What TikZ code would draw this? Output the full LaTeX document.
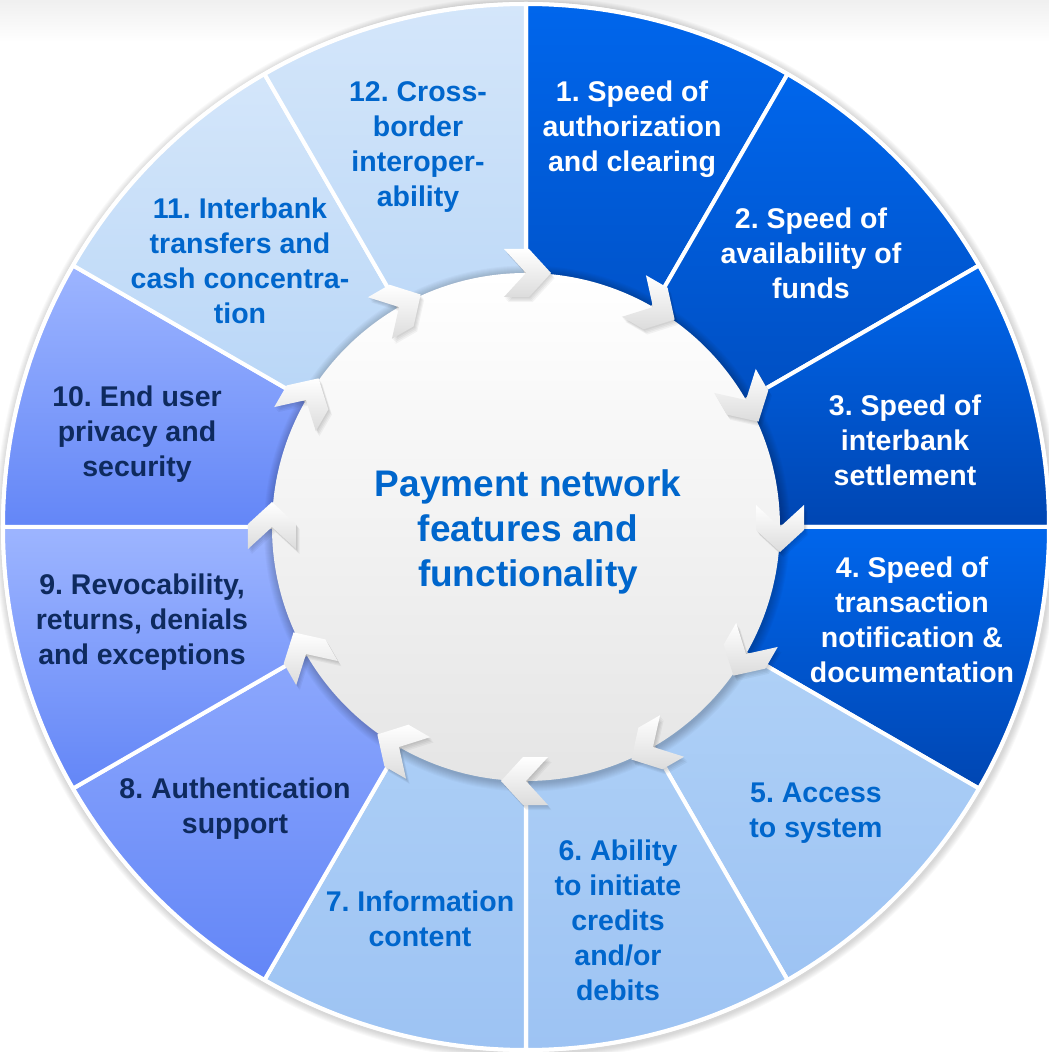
\documentclass[tikz,border=0pt]{standalone}
\usepackage{fontspec}
\setmainfont{Liberation Sans}
% sector fills (top / bottom of each wedge)
\definecolor{dkTop}{HTML}{0066EC}
\definecolor{dkBot}{HTML}{0046B2}
\definecolor{ltTop}{HTML}{B6D6F8}
\definecolor{ltBot}{HTML}{9DC3F3}
\definecolor{mdTop}{HTML}{9DB5FF}
\definecolor{mdBot}{HTML}{6386F7}
\definecolor{plTop}{HTML}{D4E6FA}
\definecolor{plBot}{HTML}{AED0F6}
% text colours
\definecolor{txBlue}{HTML}{0066CC}
\definecolor{txNavy}{HTML}{0E2A5E}
\definecolor{chevGray}{HTML}{DCDCDC}
\begin{document}
\frenchspacing
\begin{tikzpicture}[x=1pt,y=1pt,
  lbl/.style={font=\bfseries\fontsize{28.5}{35}\selectfont, align=center, inner sep=0pt},
  secDark/.style={top color=dkTop, bottom color=dkBot},
  secLight/.style={top color=ltTop, bottom color=ltBot},
  secMid/.style={top color=mdTop, bottom color=mdBot},
  secPale/.style={top color=plTop, bottom color=plBot},
  onDark/.style={lbl, text=white},
  onLight/.style={lbl, text=txBlue},
  onMid/.style={lbl, text=txNavy}]
\useasboundingbox (-526,-525) rectangle (523,527);

% faint grey band along the top edge
\shade[top color=gray!12, bottom color=white] (-526,485) rectangle (523,527);

% soft shadow around the wheel, then its white rim
\foreach \i in {1,...,7}
  \fill[black, opacity=0.022] (1,-1.5) circle (525+\i);
\fill[white] (0,0) circle (525);

% twelve wedges, clockwise from the top
\foreach \k/\st in {1/secDark,2/secDark,3/secDark,4/secDark,
                    5/secLight,6/secLight,7/secLight,
                    8/secMid,9/secMid,10/secMid,
                    11/secPale,12/secPale}{
  \pgfmathsetmacro\a{90-30*(\k-1)}
  \pgfmathsetmacro\b{\a-30}
  \path[\st, draw=white, line width=4pt, line join=round]
    (0,0) -- (\a:523) arc[start angle=\a, end angle=\b, radius=523] -- cycle;
}

% shadow cast by the hub onto the wedges
\foreach \i in {1,...,9}
  \fill[black, opacity=0.022] (1,-1.5) circle (254+\i);

% hub
\shade[top color=white, bottom color={rgb,255:red,229;green,229;blue,229}] (0,0) circle (254);

% chevrons on the hub rim, pointing clockwise
\foreach \k in {0,...,11}{
  \pgfmathsetmacro\a{90-30*\k}
  \foreach \s in {1,2,3,4}
    \fill[black, opacity=0.045, shift={(\s*0.9,-\s*1.3)}, shift={(\a:254)}, rotate=\a-90]
      (-22,24) -- (3,24) -- (25,0) -- (3,-24) -- (-22,-24) -- (0,0) -- cycle;
  \path[shift={(\a:254)}, rotate=\a-90, top color=white, bottom color=chevGray]
      (-22,24) -- (3,24) -- (25,0) -- (3,-24) -- (-22,-24) -- (0,0) -- cycle;
}

% labels
\node[onDark]  (f1)  at (106,398)   {1. Speed of\\authorization\\and clearing};
\node[onDark]  (f2)  at (285,274)   {2. Speed of\\availability of\\funds};
\node[onDark]  (f3)  at (379,87)    {3. Speed of\\interbank\\settlement};
\node[onDark]  (f4)  at (386,-93)   {4. Speed of\\transaction\\notification \&\\documentation};
\node[onLight] (f5)  at (290,-286)  {5. Access\\to system};
\node[onLight] (f6)  at (92,-393)   {6. Ability\\to initiate\\credits\\and/or\\debits};
\node[onLight] (f7)  at (-106,-392) {7. Information\\content};
\node[onMid]   (f8)  at (-291,-282) {8. Authentication\\support};
\node[onMid]   (f9)  at (-384,-95)  {9. Revocability,\\returns, denials\\and exceptions};
\node[onMid]   (f10) at (-389,93)   {10. End user\\privacy and\\security};
\node[onLight] (f11) at (-286,266)  {11. Interbank\\transfers and\\cash concentra-\\tion};
\node[onLight] (f12) at (-108,380)  {12. Cross-\\border\\interoper-\\ability};

\node[font=\bfseries\fontsize{37}{45}\selectfont, align=center, inner sep=0pt, text=txBlue]
  (hub) at (2,-5) {Payment network\\features and\\functionality};
\end{tikzpicture}
\end{document}
